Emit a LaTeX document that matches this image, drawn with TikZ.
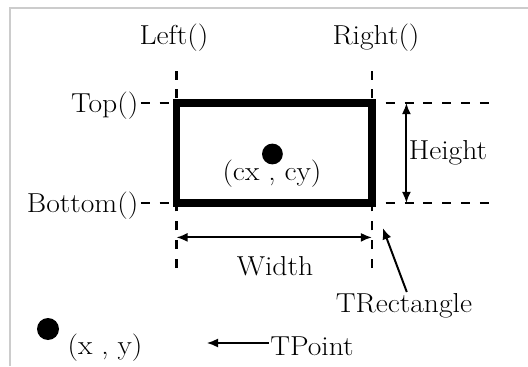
\documentclass[tikz,border=0pt]{standalone}
\usepackage{fontspec}
\setmainfont{Latin Modern Roman}[FakeStretch=1.08]
\usepackage{amsmath}
\usepackage{xcolor}
\usepackage{tikz}
\usetikzlibrary{arrows.meta}

\begin{document}
\begin{tikzpicture}[>={Latex[length=8pt,width=6.5pt]},
  every node/.style={font=\fontsize{19.5}{23}\selectfont, inner sep=1pt},
  guide/.style={dash pattern=on 6.4pt off 7pt, line width=1.6pt},
  dimline/.style={<->, line width=1.4pt},
  pointer/.style={->, line width=1.4pt}]
\useasboundingbox (0,0) rectangle (13.2,9.15);
% frame
\draw[gray!40, line width=1.5pt] (0.25,0) -- (0.25,8.95) -- (13.2,8.95);

% guide lines
\coordinate (lt) at (4.41,7.6);
\coordinate (lb) at (4.41,2.45);
\coordinate (rt) at (9.3,7.6);
\coordinate (rb) at (9.3,2.45);
\coordinate (tl) at (3.52,6.575);
\coordinate (tr) at (12.25,6.575);
\coordinate (bl) at (3.52,4.075);
\coordinate (br) at (12.25,4.075);
\draw[guide] (lb) -- (lt);
\draw[guide] (rb) -- (rt);
\draw[guide] (tl) -- (tr);
\draw[guide] (bl) -- (br);
\node[anchor=east] (top) at (3.5,6.52) {Top()};
\node[anchor=east] (bottom) at (3.5,4.02) {Bottom()};
\node (left) at (4.35,8.22) {Left()};
\node (right) at (9.4,8.22) {Right()};

% rectangle
\draw[line width=5.5pt] (4.41,4.075) rectangle (9.3,6.575);
\fill (6.81,5.3) circle (0.26);
\node (centre) at (6.8,4.8) {(cx , cy)};

% height and width
\coordinate (ht) at (10.16,6.575);
\coordinate (hb) at (10.16,4.075);
\draw[dimline] (hb) -- (ht) node[midway, right] (height) {Height};
\coordinate (wl) at (4.41,3.215);
\coordinate (wr) at (9.3,3.215);
\draw[dimline] (wl) -- (wr);
\node (width) at (6.875,2.5) {Width};

% TRectangle
\node (trect) at (10.1,1.5) {TRectangle};
\coordinate (rtip) at (9.57,3.45);
\draw[pointer] ([xshift=2pt]trect.north) -- (rtip);

% TPoint
\fill (1.2,0.925) circle (0.275);
\node (xy) at (2.625,0.45) {(x , y)};
\node (tpoint) at (7.8,0.5) {TPoint};
\coordinate (ptip) at (5.17,0.575);
\draw[pointer] (tpoint.west |- ptip) -- (ptip);
\end{tikzpicture}
\end{document}
